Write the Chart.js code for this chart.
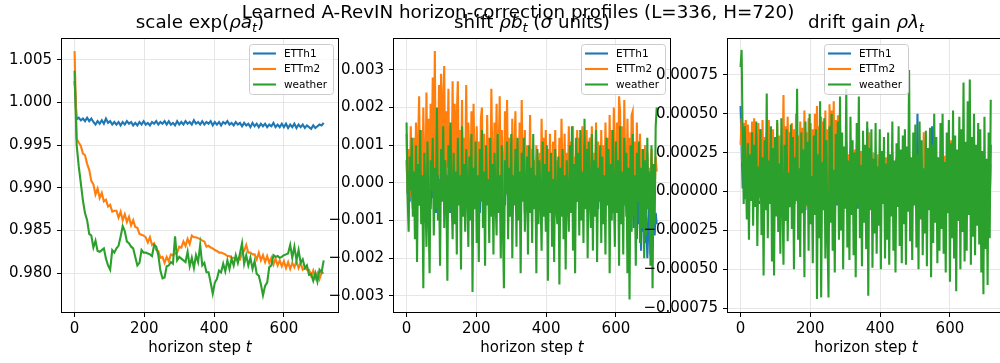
<!DOCTYPE html>
<html>
<head>
<meta charset="utf-8">
<script src="https://cdn.jsdelivr.net/npm/chart.js@4.4.0/dist/chart.umd.min.js"></script>
<style>
    html, body { margin: 0; padding: 0; background: #fff; overflow: hidden; }
    #fig { position: relative; width: 1000px; height: 363px; overflow: hidden; background: #fff; }
    #fig canvas { position: absolute; top: 0; }
    #suptitle {
        position: absolute; left: 0; top: 2.5px; width: 1036px; text-align: center;
        font: 18.3px "DejaVu Sans"; line-height: 1; white-space: nowrap; color: #000;
    }
</style>
</head>
<body>
<div id="fig"></div>
<script>
// ---- data ----
// scale panel: one value every 6 steps; shift / drift panels: one value every 3 steps
const SCALE_STEP = 6;
const NOISY_STEP = 3;
const xTicks = [0, 200, 400, 600];
const seriesNames = ["ETTh1", "ETTm2", "weather"];
const seriesColors = ["#1f77b4", "#ff7f0e", "#2ca02c"];

const scaleTicks = [0.980, 0.985, 0.990, 0.995, 1.000, 1.005];
const shiftTicks = [-0.003, -0.002, -0.001, 0, 0.001, 0.002, 0.003];
const driftTicks = [-0.00075, -0.0005, -0.00025, 0, 0.00025, 0.0005, 0.00075];

// scale exp(rho a_t)
const scaleETTh1 = [
    1.0025, 0.9980, 0.9982, 0.9979, 0.9981, 0.9978, 0.9982, 0.9978, 0.9981, 0.9977,
    0.9974, 0.9978, 0.9975, 0.9979, 0.9975, 0.9981, 0.9976, 0.9978, 0.9974, 0.9977,
    0.9974, 0.9977, 0.9973, 0.9977, 0.9974, 0.9978, 0.9975, 0.9977, 0.9973, 0.9976,
    0.9973, 0.9977, 0.9974, 0.9978, 0.9974, 0.9976, 0.9973, 0.9977, 0.9975, 0.9978,
    0.9974, 0.9977, 0.9975, 0.9978, 0.9974, 0.9978, 0.9974, 0.9976, 0.9973, 0.9978,
    0.9974, 0.9977, 0.9974, 0.9978, 0.9975, 0.9977, 0.9974, 0.9979, 0.9975, 0.9977,
    0.9974, 0.9978, 0.9974, 0.9977, 0.9975, 0.9978, 0.9973, 0.9977, 0.9974, 0.9977,
    0.9973, 0.9977, 0.9975, 0.9978, 0.9974, 0.9976, 0.9973, 0.9977, 0.9974, 0.9976,
    0.9972, 0.9976, 0.9973, 0.9975, 0.9971, 0.9976, 0.9972, 0.9975, 0.9971, 0.9975,
    0.9972, 0.9975, 0.9971, 0.9974, 0.9972, 0.9976, 0.9971, 0.9974, 0.9971, 0.9975,
    0.9971, 0.9975, 0.9970, 0.9974, 0.9971, 0.9975, 0.9970, 0.9974, 0.9971, 0.9974,
    0.9970, 0.9973, 0.9971, 0.9969, 0.9973, 0.9970, 0.9972, 0.9974, 0.9973, 0.9976
];
const scaleETTm2 = [
    1.0060, 0.9957, 0.9953, 0.9949, 0.9940, 0.9938, 0.9928, 0.9921, 0.9908, 0.9904,
    0.9892, 0.9899, 0.9888, 0.9894, 0.9884, 0.9886, 0.9878, 0.9880, 0.9872, 0.9873,
    0.9873, 0.9865, 0.9872, 0.9862, 0.9869, 0.9860, 0.9866, 0.9856, 0.9862, 0.9854,
    0.9853, 0.9846, 0.9845, 0.9844, 0.9842, 0.9836, 0.9842, 0.9833, 0.9835, 0.9827,
    0.9826, 0.9818, 0.9819, 0.9812, 0.9819, 0.9814, 0.9822, 0.9821, 0.9823, 0.9824,
    0.9831, 0.9830, 0.9837, 0.9832, 0.9840, 0.9834, 0.9844, 0.9842, 0.9842, 0.9841,
    0.9840, 0.9838, 0.9837, 0.9831, 0.9832, 0.9830, 0.9829, 0.9827, 0.9826, 0.9824,
    0.9824, 0.9823, 0.9822, 0.9820, 0.9820, 0.9818, 0.9818, 0.9816, 0.9817, 0.9816,
    0.9824, 0.9826, 0.9833, 0.9824, 0.9824, 0.9822, 0.9822, 0.9816, 0.9824, 0.9815,
    0.9821, 0.9813, 0.9820, 0.9812, 0.9818, 0.9810, 0.9817, 0.9809, 0.9815, 0.9808,
    0.9814, 0.9806, 0.9813, 0.9805, 0.9812, 0.9807, 0.9814, 0.9806, 0.9812, 0.9804,
    0.9806, 0.9804, 0.9804, 0.9797, 0.9803, 0.9794, 0.9800, 0.9793, 0.9801, 0.9800
];
const scaleWeather = [
    1.0037, 0.9950, 0.9925, 0.9905, 0.9885, 0.9870, 0.9862, 0.9846, 0.9844, 0.9830,
    0.9838, 0.9826, 0.9825, 0.9827, 0.9829, 0.9817, 0.9809, 0.9804, 0.9827, 0.9824,
    0.9829, 0.9832, 0.9843, 0.9855, 0.9849, 0.9837, 0.9835, 0.9831, 0.9829, 0.9819,
    0.9809, 0.9812, 0.9827, 0.9824, 0.9824, 0.9823, 0.9822, 0.9820, 0.9833, 0.9831,
    0.9821, 0.9803, 0.9794, 0.9795, 0.9808, 0.9809, 0.9813, 0.9811, 0.9843, 0.9815,
    0.9819, 0.9817, 0.9815, 0.9813, 0.9825, 0.9808, 0.9818, 0.9806, 0.9821, 0.9813,
    0.9833, 0.9809, 0.9812, 0.9801, 0.9801, 0.9789, 0.9776, 0.9789, 0.9793, 0.9803,
    0.9801, 0.9811, 0.9802, 0.9815, 0.9805, 0.9817, 0.9809, 0.9821, 0.9812, 0.9823,
    0.9835, 0.9811, 0.9821, 0.9809, 0.9818, 0.9805, 0.9814, 0.9799, 0.9797, 0.9787,
    0.9774, 0.9785, 0.9789, 0.9807, 0.9809, 0.9821, 0.9819, 0.9820, 0.9818, 0.9819,
    0.9821, 0.9822, 0.9823, 0.9833, 0.9818, 0.9831, 0.9815, 0.9827, 0.9812, 0.9816,
    0.9806, 0.9809, 0.9798, 0.9799, 0.9791, 0.9800, 0.9790, 0.9804, 0.9801, 0.9815
];

// shift rho b_t (sigma units)
const shiftETTh1 = [
    0.0006, -0.0003, 0.0002, -0.0005, 0.0004, -0.0001, -0.0007, 0.0004, -0.0002, 0.0005, -0.0004, 0.0001,
    -0.0006, 0.0003, -0.0002, 0.0005, -0.0007, 0.0001, 0.0004, -0.0005, 0.0002, -0.0003, 0.0004, -0.0007,
    0.0002, -0.0004, 0.0005, -0.0001, -0.0008, 0.0004, -0.0002, 0.0006, -0.0005, 0.0001, -0.0004, 0.0003,
    -0.0007, 0.0004, -0.0002, 0.0002, -0.0005, 0.0005, -0.0008, 0.0002, -0.0003, 0.0005, -0.0006, 0.0001,
    0.0004, -0.0005, 0.0002, -0.0002, 0.0006, -0.0007, 0.0003, -0.0004, 0.0001, -0.0006, 0.0004, -0.0002,
    -0.0005, 0.0002, -0.0007, 0.0005, -0.0001, 0.0003, -0.0005, 0.0001, 0.0005, -0.0004, -0.0008, 0.0002,
    0.0004, -0.0002, 0.0001, -0.0006, 0.0004, -0.0004, 0.0005, -0.0001, -0.0007, 0.0002, -0.0003, 0.0005,
    -0.0005, 0.0002, -0.0004, 0.0006, -0.0002, -0.0007, 0.0003, -0.0005, 0.0004, -0.0001, -0.0006, 0.0004,
    0.0001, -0.0004, 0.0005, -0.0007, 0.0002, -0.0002, 0.0005, -0.0005, 0.0001, -0.0008, 0.0004, -0.0001,
    0.0003, -0.0006, 0.0002, -0.0004, 0.0005, -0.0008, 0.0002, -0.0002, 0.0004, -0.0005, 0.0001, -0.0007,
    0.0004, -0.0003, 0.0005, -0.0005, 0.0001, -0.0007, 0.0003, -0.0002, 0.0005, -0.0004, 0.0002, -0.0006,
    0.0002, -0.0005, 0.0004, -0.0002, -0.0008, 0.0003, -0.0004, 0.0001, -0.0006, 0.0004, -0.0002, 0.0005,
    -0.0004, 0.0002, -0.0007, 0.0004, -0.0001, 0.0005, -0.0005, 0.0001, -0.0008, 0.0003, -0.0003, 0.0004,
    -0.0006, 0.0002, -0.0004, 0.0005, -0.0002, -0.0007, 0.0004, -0.0005, 0.0006, -0.0001, -0.0007, 0.0003,
    0.0005, -0.0004, 0.0002, -0.0006, 0.0004, -0.0002, 0.0006, -0.0005, 0.0001, -0.0004, 0.0004, -0.0008,
    0.0003, -0.0002, 0.0005, -0.0007, 0.0001, -0.0004, 0.0004, -0.0005, 0.0002, -0.0007, 0.0005, -0.0003,
    0.0002, -0.0006, 0.0004, -0.0002, 0.0005, -0.0008, 0.0001, -0.0004, 0.0005, -0.0001, -0.0007, 0.0002,
    -0.0004, 0.0005, -0.0007, 0.0002, -0.0002, 0.0004, -0.0009, 0.0001, -0.0005, 0.0003, -0.0006, 0.0004,
    -0.0003, -0.0012, 0.0004, -0.0008, -0.0015, 0.0001, -0.0011, -0.0004, -0.0018, -0.0007, -0.0013, -0.0002,
    -0.0016, -0.0009, -0.0020, -0.0012, -0.0005, -0.0019, -0.0010, -0.0017, -0.0006, -0.0014, -0.0008, -0.0011
];
const shiftETTm2 = [
    0.0013, -0.0002, 0.0009, -0.0004, 0.0015, 0.0001, -0.0003, 0.0012, -0.0005, 0.0016, -0.0002, 0.0010,
    0.0023, -0.0003, 0.0014, -0.0005, 0.0020, 0.0003, -0.0004, 0.0024, -0.0002, 0.0017, -0.0005, 0.0021,
    0.0005, 0.0028, -0.0002, 0.0035, -0.0004, 0.0018, 0.0002, 0.0026, -0.0003, 0.0029, -0.0001, 0.0022,
    0.0031, -0.0004, 0.0019, 0.0004, 0.0025, -0.0005, 0.0015, 0.0001, 0.0027, -0.0003, 0.0021, -0.0005,
    0.0018, 0.0027, -0.0003, 0.0014, -0.0002, 0.0022, -0.0005, 0.0012, 0.0003, 0.0026, -0.0004, 0.0016,
    0.0008, -0.0003, 0.0019, -0.0005, 0.0021, 0.0002, -0.0004, 0.0015, -0.0002, 0.0011, -0.0005, 0.0017,
    0.0020, -0.0003, 0.0013, 0.0001, -0.0005, 0.0018, -0.0002, 0.0012, -0.0005, 0.0025, 0.0004, -0.0004,
    0.0016, -0.0002, 0.0021, -0.0005, 0.0009, 0.0023, -0.0003, 0.0014, 0.0002, -0.0005, 0.0019, -0.0003,
    0.0022, -0.0004, 0.0012, 0.0003, -0.0005, 0.0017, -0.0003, 0.0008, 0.0019, -0.0004, 0.0011, -0.0002,
    0.0016, -0.0005, 0.0022, 0.0001, -0.0003, 0.0014, -0.0005, 0.0010, 0.0004, -0.0004, 0.0018, -0.0002,
    0.0009, -0.0005, 0.0006, -0.0003, 0.0010, -0.0005, 0.0003, 0.0008, -0.0004, 0.0017, -0.0002, 0.0012,
    -0.0004, 0.0014, -0.0002, 0.0009, -0.0005, 0.0013, 0.0000, -0.0005, 0.0011, -0.0003, 0.0014, -0.0005,
    0.0006, -0.0003, 0.0012, -0.0005, 0.0017, 0.0002, -0.0004, 0.0013, -0.0005, 0.0008, -0.0002, 0.0015,
    -0.0005, 0.0011, -0.0002, 0.0015, -0.0005, 0.0007, 0.0001, 0.0014, -0.0004, 0.0012, -0.0003, 0.0009,
    0.0015, -0.0004, 0.0010, -0.0002, 0.0014, -0.0005, 0.0005, 0.0012, -0.0003, 0.0015, -0.0002, 0.0008,
    -0.0005, 0.0016, -0.0003, 0.0011, 0.0002, -0.0005, 0.0014, -0.0002, 0.0010, -0.0005, 0.0016, 0.0001,
    0.0012, -0.0004, 0.0018, -0.0002, 0.0014, -0.0005, 0.0020, 0.0003, -0.0003, 0.0016, -0.0005, 0.0023,
    0.0019, -0.0003, 0.0015, -0.0005, 0.0022, 0.0002, -0.0004, 0.0017, -0.0002, 0.0012, -0.0005, 0.0018,
    0.0019, -0.0003, 0.0011, -0.0005, 0.0016, 0.0001, -0.0004, 0.0013, -0.0003, 0.0009, -0.0005, 0.0006,
    0.0010, -0.0004, 0.0008, -0.0005, 0.0004, -0.0002, 0.0009, -0.0005, 0.0002, -0.0003, 0.0007, 0.0003
];
const shiftWeather = [
    0.0016, -0.0004, -0.0013, 0.0007, -0.0002, 0.0012, -0.0009, 0.0003, -0.0015, 0.0010, -0.0021, 0.0005,
    -0.0006, 0.0014, -0.0011, 0.0002, -0.0028, 0.0008, -0.0003, -0.0017, 0.0011, -0.0008, -0.0024, 0.0006,
    -0.0002, 0.0012, -0.0014, 0.0004, -0.0007, 0.0020, -0.0010, 0.0001, -0.0022, 0.0009, -0.0005, 0.0015,
    -0.0012, 0.0006, -0.0003, -0.0026, 0.0010, -0.0008, 0.0016, -0.0004, -0.0015, 0.0008, -0.0011, 0.0003,
    -0.0019, 0.0012, -0.0006, 0.0002, -0.0023, 0.0015, -0.0009, 0.0005, -0.0013, 0.0009, -0.0002, -0.0017,
    0.0007, -0.0010, 0.0013, -0.0029, 0.0004, -0.0007, 0.0011, -0.0016, 0.0002, -0.0021, 0.0009, -0.0005,
    0.0014, -0.0012, 0.0003, -0.0022, 0.0010, -0.0006, 0.0001, -0.0016, 0.0012, -0.0009, 0.0005, -0.0019,
    0.0008, -0.0004, -0.0014, 0.0013, -0.0008, 0.0002, -0.0020, 0.0010, -0.0011, -0.0028, 0.0006, -0.0003,
    0.0011, -0.0015, 0.0004, -0.0009, 0.0013, -0.0020, 0.0002, -0.0006, 0.0009, -0.0017, 0.0012, -0.0010,
    0.0003, -0.0024, 0.0008, -0.0005, 0.0012, -0.0013, -0.0002, 0.0007, -0.0019, 0.0010, -0.0008, 0.0004,
    -0.0016, 0.0013, -0.0007, 0.0002, -0.0024, 0.0009, -0.0011, 0.0006, -0.0004, -0.0018, 0.0011, -0.0009,
    0.0005, -0.0013, 0.0010, -0.0026, 0.0003, -0.0008, 0.0008, -0.0017, 0.0001, -0.0021, 0.0009, -0.0006,
    -0.0011, 0.0007, -0.0027, 0.0004, -0.0009, 0.0009, -0.0015, 0.0002, -0.0023, 0.0006, -0.0004, -0.0013,
    0.0010, -0.0008, 0.0015, -0.0018, 0.0005, -0.0024, 0.0012, -0.0005, 0.0008, -0.0014, 0.0014, -0.0010,
    0.0003, -0.0016, 0.0017, -0.0007, 0.0009, -0.0020, 0.0011, -0.0003, -0.0012, 0.0013, -0.0018, 0.0006,
    -0.0009, 0.0014, -0.0021, 0.0004, -0.0005, 0.0010, -0.0016, 0.0007, -0.0011, 0.0002, -0.0019, 0.0012,
    -0.0006, 0.0009, -0.0024, 0.0005, -0.0010, 0.0014, -0.0003, -0.0017, 0.0011, -0.0008, 0.0006, -0.0022,
    0.0015, -0.0011, 0.0003, -0.0019, 0.0012, -0.0006, 0.0008, -0.0024, 0.0004, -0.0031, 0.0010, -0.0013,
    0.0013, -0.0009, 0.0002, -0.0022, 0.0008, -0.0005, 0.0011, -0.0016, 0.0004, -0.0012, 0.0009, -0.0020,
    0.0006, -0.0014, 0.0012, -0.0007, 0.0003, -0.0022, 0.0010, -0.0028, 0.0005, -0.0011, 0.0015, 0.0020
];

// drift gain rho lambda_t
const driftETTh1 = [
    0.00055, 0.00030, 0.00002, 0.00018, -0.00005, 0.00025, 0.00008, -0.00009, 0.00020, 0.00003, 0.00022, -0.00006,
    0.00018, -0.00009, 0.00012, 0.00024, -0.00004, 0.00020, -0.00008, 0.00016, 0.00005, 0.00022, -0.00006, 0.00018,
    -0.00008, 0.00020, 0.00003, 0.00025, -0.00006, 0.00015, -0.00010, 0.00022, 0.00002, 0.00026, -0.00005, 0.00018,
    -0.00009, 0.00024, 0.00004, 0.00021, -0.00011, 0.00016, -0.00004, 0.00026, -0.00007, 0.00019, 0.00001, 0.00023,
    -0.00010, 0.00022, -0.00002, 0.00025, -0.00008, 0.00015, 0.00003, 0.00027, -0.00009, 0.00020, -0.00005, 0.00024,
    -0.00006, 0.00023, -0.00012, 0.00026, 0.00002, 0.00017, -0.00009, 0.00024, -0.00004, 0.00021, -0.00011, 0.00027,
    -0.00005, 0.00023, -0.00010, 0.00019, 0.00001, 0.00025, -0.00008, 0.00022, -0.00012, 0.00027, -0.00003, 0.00020,
    -0.00008, 0.00025, -0.00005, 0.00022, -0.00011, 0.00027, 0.00001, 0.00021, -0.00009, 0.00025, -0.00006, 0.00023,
    -0.00010, 0.00016, -0.00004, 0.00019, -0.00008, 0.00014, -0.00012, 0.00018, -0.00002, 0.00020, -0.00007, 0.00016,
    -0.00009, 0.00018, -0.00005, 0.00015, -0.00011, 0.00020, -0.00003, 0.00017, -0.00008, 0.00021, -0.00006, 0.00018,
    -0.00008, 0.00041, -0.00011, 0.00020, -0.00004, 0.00022, -0.00009, 0.00018, -0.00012, 0.00021, -0.00006, 0.00019,
    -0.00008, 0.00019, -0.00010, 0.00017, -0.00005, 0.00021, -0.00011, 0.00018, -0.00007, 0.00020, -0.00009, 0.00016,
    -0.00006, 0.00020, -0.00011, 0.00016, -0.00008, 0.00021, -0.00005, 0.00018, -0.00010, 0.00017, -0.00008, 0.00019,
    -0.00011, 0.00018, -0.00007, 0.00022, -0.00009, 0.00017, -0.00006, 0.00020, -0.00010, 0.00019, -0.00008, 0.00021,
    -0.00009, 0.00050, -0.00006, 0.00020, -0.00011, 0.00019, -0.00004, 0.00022, -0.00009, 0.00017, -0.00008, 0.00020,
    -0.00008, 0.00021, -0.00010, 0.00042, -0.00006, 0.00020, -0.00012, 0.00022, -0.00009, 0.00018, -0.00007, 0.00020,
    -0.00008, 0.00022, -0.00011, 0.00019, -0.00006, 0.00021, -0.00009, 0.00017, -0.00011, 0.00020, -0.00005, 0.00019,
    -0.00009, 0.00020, -0.00007, 0.00022, -0.00010, 0.00018, -0.00008, 0.00020, -0.00009, 0.00016, -0.00006, 0.00019,
    -0.00008, 0.00020, -0.00011, 0.00017, -0.00006, 0.00021, -0.00009, 0.00018, -0.00010, 0.00020, -0.00007, 0.00016,
    -0.00009, 0.00019, -0.00008, 0.00017, -0.00010, 0.00020, -0.00006, 0.00016, -0.00008, 0.00018, -0.00009, 0.00030
];
const driftETTm2 = [
    0.00030, 0.00047, 0.00018, 0.00044, 0.00025, 0.00046, 0.00009, 0.00043, 0.00020, 0.00038, 0.00004, 0.00045,
    0.00012, 0.00047, -0.00004, 0.00036, 0.00015, 0.00044, -0.00006, 0.00040, 0.00006, 0.00046, -0.00003, 0.00035,
    -0.00007, 0.00038, 0.00002, 0.00046, -0.00005, 0.00030, 0.00008, 0.00040, -0.00008, 0.00035, 0.00004, 0.00044,
    -0.00006, 0.00036, -0.00009, 0.00030, 0.00005, 0.00062, -0.00004, 0.00042, -0.00008, 0.00048, 0.00001, 0.00038,
    -0.00009, 0.00044, -0.00003, 0.00040, -0.00008, 0.00050, 0.00003, 0.00036, -0.00010, 0.00045, -0.00005, 0.00041,
    -0.00007, 0.00052, -0.00004, 0.00038, -0.00010, 0.00047, 0.00002, 0.00044, -0.00008, 0.00040, -0.00005, 0.00050,
    -0.00006, 0.00055, -0.00009, 0.00042, -0.00003, 0.00048, -0.00008, 0.00045, -0.00006, 0.00052, -0.00010, 0.00040,
    -0.00005, 0.00056, -0.00007, 0.00052, -0.00004, 0.00058, -0.00028, 0.00046, -0.00006, 0.00049, -0.00009, 0.00042,
    -0.00008, 0.00030, -0.00005, 0.00026, -0.00009, 0.00032, -0.00004, 0.00024, -0.00008, 0.00028, -0.00010, 0.00022,
    -0.00006, 0.00027, -0.00009, 0.00031, -0.00005, 0.00024, -0.00008, 0.00026, -0.00006, 0.00020, -0.00009, 0.00025,
    -0.00007, 0.00023, -0.00009, 0.00038, -0.00005, 0.00019, -0.00008, 0.00025, -0.00007, 0.00021, -0.00010, 0.00024,
    -0.00005, 0.00020, -0.00008, 0.00023, -0.00006, 0.00018, -0.00009, 0.00022, -0.00004, 0.00019, -0.00007, 0.00021,
    -0.00009, 0.00025, -0.00006, 0.00018, -0.00008, 0.00022, -0.00005, 0.00020, -0.00010, 0.00017, -0.00007, 0.00023,
    -0.00008, 0.00021, -0.00006, 0.00019, -0.00009, 0.00024, -0.00005, 0.00020, -0.00008, 0.00018, -0.00007, 0.00022,
    -0.00006, 0.00020, -0.00009, 0.00023, -0.00005, 0.00017, -0.00008, 0.00038, -0.00006, 0.00019, -0.00009, 0.00020,
    -0.00007, 0.00022, -0.00004, 0.00018, -0.00008, 0.00020, -0.00006, 0.00016, -0.00008, 0.00021, -0.00005, 0.00019,
    -0.00008, 0.00020, -0.00006, 0.00023, -0.00009, 0.00017, -0.00005, 0.00019, -0.00007, 0.00033, -0.00006, 0.00018,
    -0.00007, 0.00021, -0.00005, 0.00016, -0.00008, 0.00020, -0.00006, 0.00023, -0.00004, 0.00018, -0.00008, 0.00020,
    -0.00006, 0.00019, -0.00009, 0.00022, -0.00005, 0.00017, -0.00007, 0.00020, -0.00006, 0.00018, -0.00008, 0.00021,
    -0.00007, 0.00017, -0.00005, 0.00020, -0.00008, 0.00016, -0.00006, 0.00019, -0.00007, 0.00015, -0.00005, 0.00018
];
const driftWeather = [
    0.00080, 0.00091, 0.00035, -0.00008, 0.00042, 0.00012, -0.00018, 0.00031, -0.00031, 0.00024, -0.00006, 0.00038,
    -0.00022, 0.00030, -0.00010, 0.00045, -0.00035, 0.00016, -0.00004, 0.00040, -0.00028, 0.00022, -0.00054, 0.00033,
    -0.00012, 0.00063, -0.00030, 0.00020, -0.00008, 0.00042, -0.00045, 0.00028, -0.00054, 0.00035, -0.00016, 0.00046,
    -0.00026, 0.00018, -0.00040, 0.00047, -0.00003, -0.00047, 0.00030, -0.00019, 0.00040, -0.00032, 0.00012, -0.00010,
    0.00043, -0.00024, 0.00035, -0.00050, 0.00022, -0.00006, 0.00066, -0.00031, 0.00015, -0.00042, 0.00038, -0.00014,
    0.00027, -0.00055, 0.00045, -0.00009, 0.00032, -0.00038, 0.00050, -0.00021, 0.00010, -0.00046, 0.00036, -0.00015,
    0.00040, -0.00069, 0.00024, -0.00030, 0.00058, -0.00068, 0.00019, -0.00012, 0.00047, -0.00043, 0.00033, -0.00026,
    -0.00068, 0.00042, -0.00020, 0.00050, -0.00038, 0.00014, -0.00052, 0.00037, -0.00007, 0.00045, -0.00031, 0.00061,
    -0.00025, 0.00038, -0.00050, 0.00029, -0.00011, 0.00066, -0.00036, 0.00020, -0.00044, 0.00048, -0.00015, 0.00033,
    -0.00041, 0.00025, -0.00055, 0.00044, -0.00009, 0.00061, -0.00030, 0.00017, -0.00048, 0.00039, -0.00020, 0.00030,
    -0.00037, 0.00045, -0.00067, 0.00028, -0.00012, 0.00040, -0.00049, 0.00021, -0.00027, 0.00044, -0.00040, 0.00016,
    -0.00022, 0.00040, -0.00050, 0.00026, -0.00008, 0.00035, -0.00043, 0.00018, -0.00031, 0.00038, -0.00047, 0.00024,
    -0.00016, 0.00045, -0.00038, 0.00020, -0.00052, 0.00031, -0.00010, 0.00042, -0.00035, 0.00027, -0.00046, 0.00036,
    -0.00021, 0.00040, -0.00047, 0.00029, -0.00013, 0.00078, -0.00032, 0.00022, -0.00044, 0.00038, -0.00009, 0.00043,
    -0.00036, 0.00024, -0.00050, 0.00045, -0.00018, 0.00033, -0.00041, 0.00015, -0.00027, 0.00039, -0.00048, 0.00028,
    -0.00012, 0.00041, -0.00055, 0.00030, -0.00033, 0.00050, -0.00020, 0.00035, -0.00046, 0.00022, -0.00038, 0.00044,
    -0.00024, 0.00050, -0.00040, 0.00019, -0.00052, 0.00038, -0.00014, 0.00046, -0.00058, 0.00031, -0.00030, 0.00052,
    -0.00043, 0.00036, -0.00064, 0.00027, -0.00019, 0.00048, -0.00050, 0.00040, -0.00026, 0.00070, -0.00045, 0.00032,
    -0.00038, 0.00058, -0.00015, 0.00072, -0.00047, 0.00035, -0.00029, 0.00050, -0.00041, 0.00030, -0.00022, 0.00044,
    -0.00034, 0.00040, -0.00052, 0.00026, -0.00066, 0.00048, -0.00037, 0.00021, -0.00060, 0.00038, -0.00030, 0.00059
];

// ---- layout of the figure ----
const FIG_H = 363;
const PLOT_TOP = 39, PLOT_BOTTOM = 312, PLOT_W = 276;
const Y_W = 90, X_H = 30, PAD_R = 30;
const FONT = '"DejaVu Sans"';
const TITLE_SIZE = 18.3;

/** matplotlib-like minus sign */
const fmt = (v, d) => v.toFixed(d).replace("-", "\u2212");

/**
 * Draws a line of text made of plain / italic / subscript runs, centered at cx.
 */
function drawRich(ctx, parts, cx, baseline, size) {
    const fontOf = p => `${p.it ? "italic " : ""}${p.sub ? size * 0.7 : size}px ${FONT}`;
    let w = 0;
    parts.forEach(p => { ctx.font = fontOf(p); w += ctx.measureText(p.t).width; });
    let x = cx - w / 2;
    ctx.textAlign = "left";
    ctx.textBaseline = "alphabetic";
    ctx.fillStyle = "#000";
    parts.forEach(p => {
        ctx.font = fontOf(p);
        ctx.fillText(p.t, x, baseline + (p.sub ? size * 0.24 : 0));
        x += ctx.measureText(p.t).width;
    });
}

/** spines, title, x label and legend of one panel */
const decorPlugin = {
    id: "decor",
    afterDatasetsDraw(chart, args, opts) {
        const ctx = chart.ctx, a = chart.chartArea;
        ctx.save();
        ctx.strokeStyle = "#000";
        ctx.lineWidth = 1;
        ctx.strokeRect(a.left - 0.5, a.top - 0.5, a.right - a.left + 1, a.bottom - a.top + 1);

        // legend
        const fs = 10.5;
        ctx.font = `${fs}px ${FONT}`;
        const sets = chart.data.datasets;
        const tw = Math.max(...sets.map(s => ctx.measureText(s.label).width));
        const w = 4 + 23 + 8 + tw + 6, h = 50;
        const x = opts.legend === "center" ? (a.left + a.right) / 2 - w / 2 : a.right - 5 - w;
        const y = a.top + 5;
        ctx.beginPath();
        if (ctx.roundRect) ctx.roundRect(Math.round(x) + 0.5, y + 0.5, Math.round(w), h, 3);
        else ctx.rect(Math.round(x) + 0.5, y + 0.5, Math.round(w), h);
        ctx.fillStyle = "rgba(255,255,255,0.8)";
        ctx.fill();
        ctx.strokeStyle = "#cccccc";
        ctx.stroke();
        sets.forEach((s, i) => {
            const cy = y + 9.5 + i * 15.5;
            ctx.strokeStyle = s.borderColor;
            ctx.lineWidth = 2.1;
            ctx.beginPath();
            ctx.moveTo(x + 4, cy);
            ctx.lineTo(x + 27, cy);
            ctx.stroke();
            ctx.fillStyle = "#000";
            ctx.textAlign = "left";
            ctx.textBaseline = "middle";
            ctx.fillText(s.label, x + 35, cy + 0.5);
        });
        ctx.restore();
    },
    afterDraw(chart, args, opts) {
        const ctx = chart.ctx, a = chart.chartArea;
        ctx.save();
        drawRich(ctx, opts.title, (a.left + a.right) / 2, 28, TITLE_SIZE);
        drawRich(ctx, [{ t: "horizon step " }, { t: "t", it: true }], (a.left + a.right) / 2, 352, 15);
        ctx.restore();
    }
};

/**
 * One subplot of the figure, drawn on its own canvas.
 * @class
 */
class PanelChart {
    constructor(container, plotLeft) {
        this.canvas = document.createElement("canvas");
        this.canvas.width = Y_W + PLOT_W + PAD_R;
        this.canvas.height = FIG_H;
        this.canvas.style.left = (plotLeft - Y_W) + "px";
        container.appendChild(this.canvas);
    }

    drawChart(values, step, yTicks, yRange, digits, title, legend) {
        const datasets = values.map((vals, k) => ({
            label: seriesNames[k],
            data: vals.map((v, i) => ({ x: i * step, y: v })),
            borderColor: seriesColors[k],
            borderWidth: 2.1,
            pointRadius: 0,
            tension: 0,
            fill: false,
            order: 3 - k
        }));
        const tickFont = { family: "DejaVu Sans", size: 15 };
        const grid = { color: "#e6e6e6", lineWidth: 1, tickLength: 5, tickColor: "#000", tickWidth: 1 };
        this.chart = new Chart(this.canvas.getContext("2d"), {
            type: "line",
            data: { datasets },
            options: {
                responsive: false,
                animation: false,
                devicePixelRatio: 1,
                layout: { padding: { left: 0, right: PAD_R, top: PLOT_TOP, bottom: FIG_H - PLOT_BOTTOM - X_H } },
                plugins: { legend: { display: false }, tooltip: { enabled: false }, decor: { title, legend } },
                scales: {
                    x: {
                        type: "linear", min: -36, max: 755,
                        grid, border: { display: false },
                        ticks: { font: tickFont, color: "#000", padding: 3, autoSkip: false, maxRotation: 0 },
                        afterBuildTicks: s => { s.ticks = xTicks.map(v => ({ value: v })); },
                        afterFit: s => { s.height = X_H; }
                    },
                    y: {
                        type: "linear", min: yRange[0], max: yRange[1],
                        grid, border: { display: false },
                        ticks: { font: tickFont, color: "#000", padding: 5, callback: v => fmt(v, digits) },
                        afterBuildTicks: s => { s.ticks = yTicks.map(v => ({ value: v })); },
                        afterFit: s => { s.width = Y_W; }
                    }
                }
            },
            plugins: [decorPlugin]
        });
    }
}

const fig = document.getElementById("fig");
new PanelChart(fig, 62).drawChart(
    [scaleETTh1, scaleETTm2, scaleWeather], SCALE_STEP, scaleTicks, [0.97545, 1.00742], 3,
    [{ t: "scale exp(" }, { t: "\u03c1a", it: true }, { t: "t", it: true, sub: true }, { t: ")" }], "right");
new PanelChart(fig, 394).drawChart(
    [shiftETTh1, shiftETTm2, shiftWeather], NOISY_STEP, shiftTicks, [-0.00343, 0.00382], 3,
    [{ t: "shift " }, { t: "\u03c1b", it: true }, { t: "t", it: true, sub: true }, { t: " (" },
     { t: "\u03c3", it: true }, { t: " units)" }], "right");
new PanelChart(fig, 728).drawChart(
    [driftETTh1, driftETTm2, driftWeather], NOISY_STEP, driftTicks, [-0.000774, 0.00098], 5,
    [{ t: "drift gain " }, { t: "\u03c1\u03bb", it: true }, { t: "t", it: true, sub: true }], "center");

const sup = document.createElement("div");
sup.id = "suptitle";
sup.textContent = "Learned A-RevIN horizon-correction profiles (L=336, H=720)";
fig.appendChild(sup);
</script>
</body>
</html>
